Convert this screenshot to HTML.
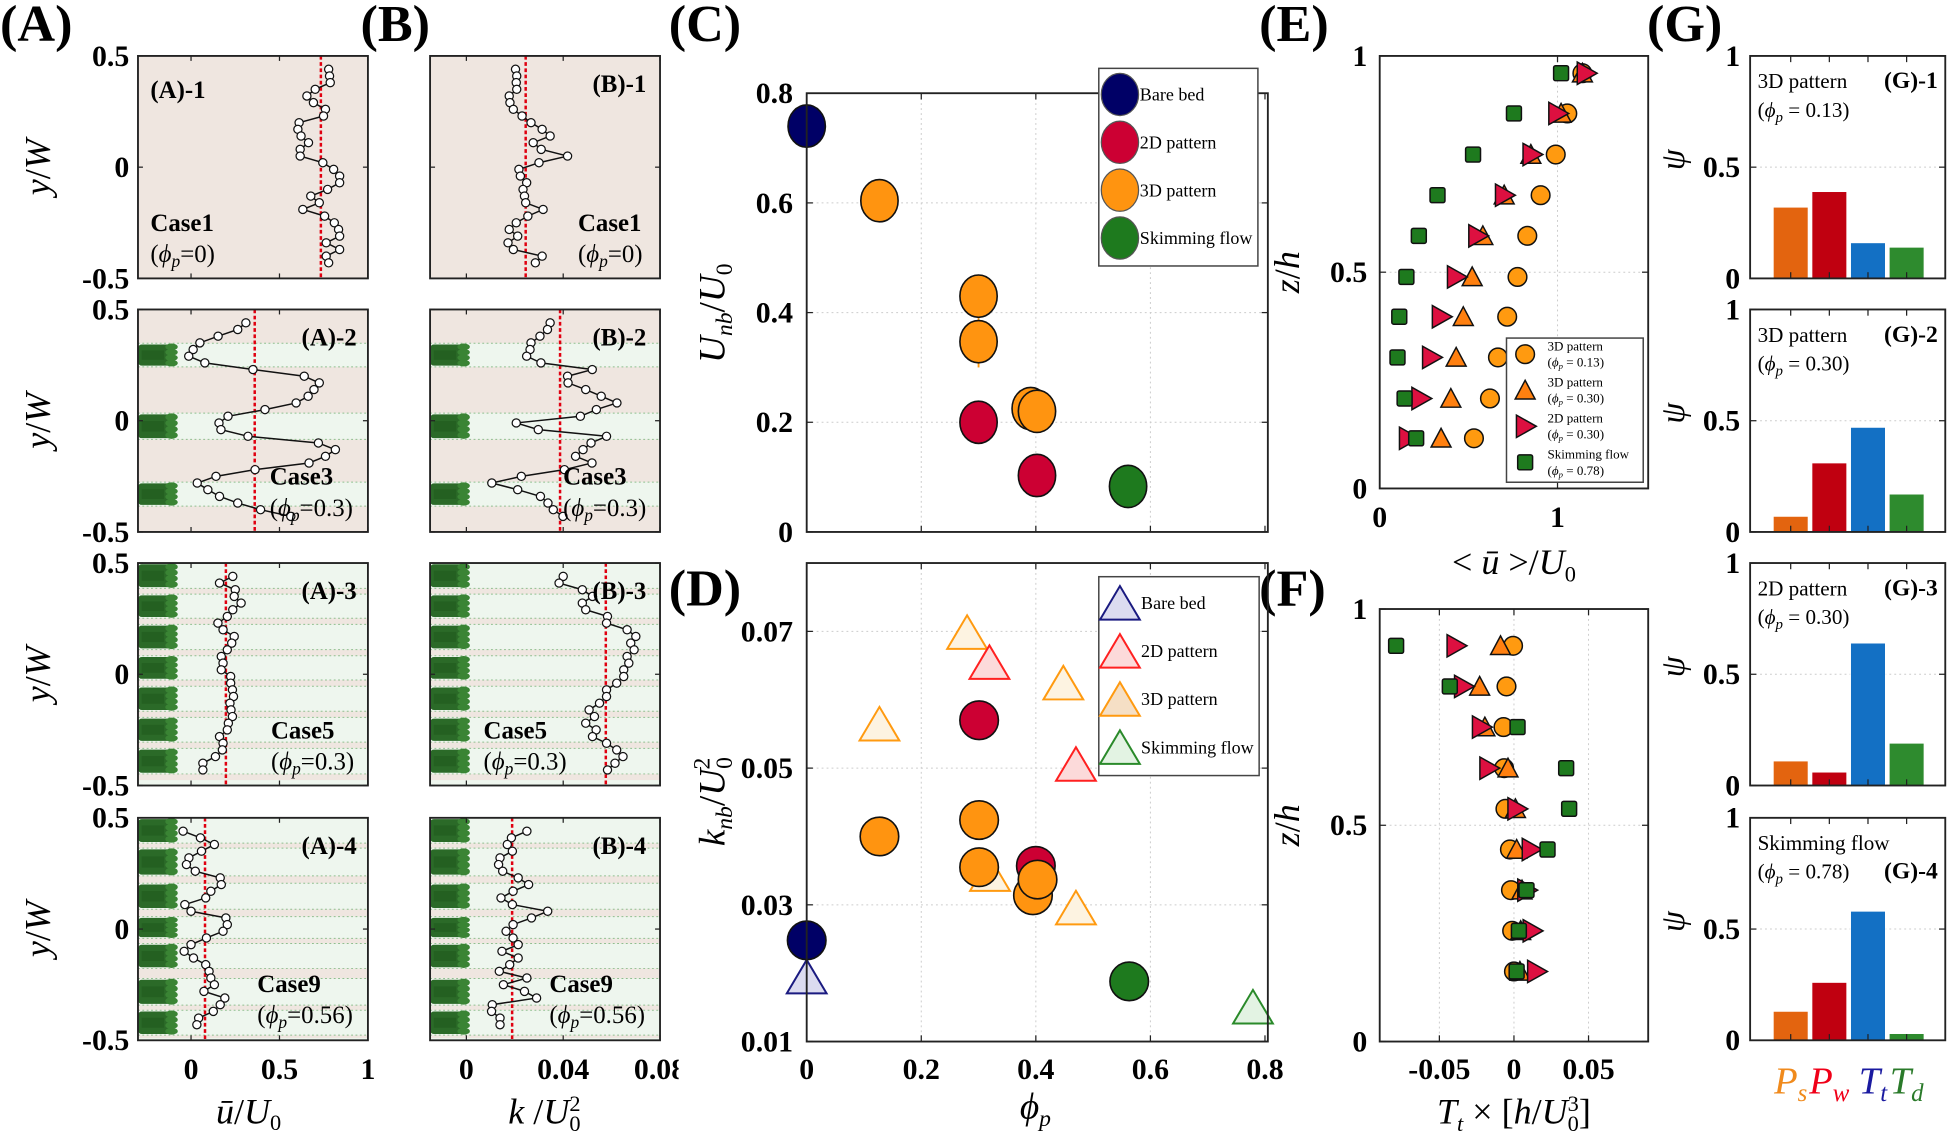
<!DOCTYPE html>
<html><head><meta charset="utf-8"><title>Vegetation pattern flow figure</title>
<style>
html,body{margin:0;padding:0;background:#fff;}
svg{display:block;font-family:"Liberation Serif",serif;}
.tk{font-weight:bold;font-size:24px;}
.it{font-style:italic;}
</style></head>
<body>
<svg id="fig" xmlns="http://www.w3.org/2000/svg" width="1949" height="1136" viewBox="0 0 1568 914" preserveAspectRatio="none">
<defs>
<clipPath id="clipB"><rect x="0" y="0" width="546" height="914"/></clipPath>
</defs>
</svg>
<script>
// ---------- DATA ----------
const profileY = [0.44,0.41,0.38,0.35,0.32,0.29,0.26,0.23,0.20,0.17,0.14,0.11,0.08,0.05,0.02,-0.01,-0.04,-0.07,-0.10,-0.13,-0.16,-0.19,-0.22,-0.25,-0.28,-0.31,-0.34,-0.37,-0.40,-0.43];
const uA1 = [0.778,0.783,0.787,0.702,0.655,0.692,0.76,0.749,0.611,0.604,0.622,0.664,0.617,0.617,0.745,0.806,0.84,0.84,0.772,0.677,0.725,0.632,0.755,0.81,0.834,0.84,0.764,0.84,0.764,0.778];
const uA2 = [0.31,0.264,0.153,0.05,0.012,-0.013,0.078,0.35,0.64,0.725,0.695,0.662,0.594,0.418,0.209,0.158,0.169,0.322,0.72,0.816,0.76,0.667,0.362,0.141,0.035,0.095,0.161,0.264,0.393,0.564];
const uA3 = [0.236,0.161,0.25,0.244,0.283,0.236,0.205,0.152,0.181,0.244,0.23,0.205,0.171,0.181,0.171,0.224,0.224,0.234,0.24,0.22,0.226,0.234,0.211,0.205,0.161,0.181,0.177,0.138,0.067,0.067];
const uA4 = [-0.045,0.053,0.132,0.059,-0.012,-0.026,0.024,0.165,0.171,0.112,0.083,-0.035,0,0.197,0.205,0.181,0.087,0,-0.039,0.014,0.083,0.102,0.112,0.132,0.073,0.191,0.165,0.126,0.043,0.033];
const kB1 = [0.0203,0.0208,0.0206,0.0208,0.0177,0.018,0.0194,0.023,0.0267,0.0313,0.0346,0.0276,0.0309,0.0418,0.03,0.0217,0.0223,0.0249,0.0234,0.024,0.0245,0.0317,0.0254,0.0206,0.0177,0.0212,0.0172,0.0194,0.0313,0.0285];
const kB2 = [0.0346,0.0335,0.0304,0.0267,0.0263,0.0249,0.0308,0.052,0.0418,0.042,0.0493,0.0557,0.0622,0.0537,0.0471,0.0206,0.0297,0.0579,0.0515,0.0482,0.0451,0.0519,0.0405,0.0227,0.0105,0.0212,0.0306,0.0337,0.0359,0.0399];
const kB3 = [0.04,0.0383,0.0479,0.0521,0.0479,0.0493,0.0583,0.0579,0.0664,0.07,0.0679,0.0693,0.0664,0.0671,0.065,0.065,0.0621,0.0579,0.0579,0.055,0.0507,0.0529,0.0493,0.0536,0.0521,0.0579,0.0621,0.0647,0.0614,0.0583];
const kB4 = [0.025,0.0186,0.0169,0.019,0.0139,0.0133,0.015,0.0214,0.0257,0.0193,0.0143,0.019,0.0336,0.0269,0.0193,0.0164,0.0193,0.0214,0.0147,0.0214,0.0179,0.0136,0.025,0.0153,0.024,0.029,0.0107,0.0104,0.0139,0.0139];
const meanA = [0.734,0.36,0.197,0.079];
const meanB = [0.0245,0.0387,0.0576,0.0189];

const phiC = [0,0.127,0.30,0.30,0.391,0.402,0.30,0.402,0.561];
const unbC = [0.74,0.604,0.43,0.347,0.225,0.22,0.2,0.103,0.083];
const typeC = ['bare','3d','3d','3d','3d','3d','2d','2d','skim'];

const phiDc = [0,0.127,0.301,0.301,0.40,0.395,0.403,0.301,0.563];
const knbDc = [0.0248,0.0400,0.0424,0.0355,0.0357,0.0314,0.0337,0.0570,0.0188];
const typeDc = ['bare','3d','3d','3d','2d','3d','3d','2d','skim'];
const phiDt = [0,0.28,0.127,0.448,0.32,0.47,0.319,0.47,0.779];
const knbDt = [0.0195,0.0699,0.0565,0.0625,0.0345,0.0296,0.0655,0.0506,0.0151];
const typeDt = ['bare','3d','3d','3d','3d','3d','2d','2d','skim'];

const zE = [0.96,0.867,0.772,0.678,0.584,0.489,0.397,0.303,0.208,0.116];
const uE_c13 = [1.14,1.055,0.99,0.905,0.83,0.775,0.717,0.665,0.62,0.53];
const uE_t30 = [1.14,1.02,0.85,0.70,0.58,0.52,0.47,0.43,0.40,0.345];
const uE_2d = [1.16,1.0,0.855,0.70,0.55,0.43,0.345,0.29,0.23,0.16];
const uE_sk = [1.02,0.755,0.525,0.325,0.22,0.15,0.11,0.10,0.14,0.205];

const zF = [0.915,0.821,0.727,0.632,0.538,0.444,0.35,0.256,0.162];
const tF_c13 = [-0.0006,-0.005,-0.007,-0.0066,-0.0057,-0.0027,-0.002,-0.0012,0];
const tF_t30 = [-0.009,-0.023,-0.0195,-0.004,0.001,0.0018,0.0054,0.0045,0.004];
const tF_2d = [-0.039,-0.034,-0.022,-0.017,0.0018,0.0114,0.0084,0.012,0.015];
const tF_sk = [-0.079,-0.043,0.0024,0.035,0.037,0.0225,0.0084,0.0033,0.0018];

const barCats = ['Ps','Pw','Tt','Td'];
const psiG1 = [0.32,0.39,0.16,0.14];
const psiG2 = [0.07,0.31,0.47,0.17];
const psiG3 = [0.11,0.06,0.64,0.19];
const psiG4 = [0.13,0.26,0.58,0.03];
const gTitles = ['3D pattern','3D pattern','2D pattern','Skimming flow'];
const gPhi = ['0.13','0.30','0.30','0.78'];

const tickA = ['0','0.5','1'];
const tickAv = [0,0.5,1];
const tickBv = [0,0.04,0.08];
const tickB = ['0','0.04','0.08'];
const tickCDx = [0,0.2,0.4,0.6,0.8];
const tickCy = [0,0.2,0.4,0.6,0.8];
const tickDy = [0.01,0.03,0.05,0.07];
const tickFx = [-0.05,0,0.05];

// ---------- HELPERS ----------
const NS='http://www.w3.org/2000/svg';
const svg=document.getElementById('fig');
function el(tag,attrs,parent,name){
  const e=document.createElementNS(NS,tag);
  for(const k in attrs) e.setAttribute(k,attrs[k]);
  
  
  (parent||svg).appendChild(e);
  return e;
}
function txt(parts,x,y,opts,parent,name){
  const t=el('text',Object.assign({x:x,y:y},opts||{}),parent,name);
  if(typeof parts==='string'){t.textContent=parts;return t;}
  parts.forEach(p=>{
    const s=document.createElementNS(NS,'tspan');
    s.textContent=p.t;
    if(p.it) s.setAttribute('font-style','italic');
    if(p.b) s.setAttribute('font-weight','bold');
    if(p.n) s.setAttribute('font-weight','normal');
    if(p.sz) s.setAttribute('font-size',p.sz);
    if(p.dy) s.setAttribute('dy',p.dy);
    if(p.dx) s.setAttribute('dx',p.dx);
    if(p.fill) s.setAttribute('fill',p.fill);
    t.appendChild(s);
  });
  return t;
}
function lin(d0,d1,p0,p1){return v=>p0+(v-d0)/(d1-d0)*(p1-p0);}

const ROWS=[45,249,453,658], RH=179;
const AX0=111,AX1=296,BX0=346,BX1=531;

// ---------- panel letters ----------
[['(A)',0,33],['(B)',290,33],['(C)',538,33],['(D)',538,487],['(E)',1013,33],['(F)',1013,487],['(G)',1325,33]].forEach(p=>{
  txt(p[0],p[1],p[2],{'font-size':42,'font-weight':'bold'},svg,'panel-label-'+p[0].replace(/[()]/g,'').toLowerCase());
});

// ---------- vegetation plant ----------
function plant(g,x0,yt,yb){
  const h=yb-yt;
  el('rect',{x:x0,y:yt+1,width:27,height:h-2,fill:'#2b6a28',rx:3},g,'vegetation-patch');
  for(let i=0;i<4;i++){
    el('ellipse',{cx:x0+27,cy:yt+h*(0.15+0.23*i),rx:5,ry:h*0.14,fill:'#3a8434'},g,'vegetation-leaf');
  }
  el('rect',{x:x0+3,y:yt+h*0.3,width:18,height:h*0.4,fill:'#1f5a1d',opacity:0.6},g,'vegetation-shade');
}

// ---------- A/B profile panels ----------
function profilePanel(col,row,vals,mean){
  const x0=col==='A'?AX0:BX0,x1=col==='A'?AX1:BX1;
  const sx=col==='A'?lin(-0.3,1,x0,x1):lin(-0.015,0.08,x0,x1);
  const top=ROWS[row],bot=top+RH;
  const sy=lin(0.5,-0.5,top,bot);
  const g=el('g',{},svg,'panel-'+col.toLowerCase()+'-'+(row+1));
  const beige='#efe6e0',green='#eef6ee';
  el('rect',{x:x0,y:top,width:x1-x0,height:RH,fill:row===0||row===1?beige:green},g,'plot-background');
  let zones=[];
  if(row===1){
    zones=[[0.242,0.348],[-0.084,0.034],[-0.384,-0.276]];
    zones.forEach(z=>{
      el('rect',{x:x0,y:sy(z[1]),width:x1-x0,height:sy(z[0])-sy(z[1]),fill:green},g,'vegetation-band');
    });
  }
  if(row>=2){
    const stripes=row===2?[[0.36,0.386],[0.224,0.252],[0.083,0.111],[-0.054,-0.026],[-0.194,-0.166],[-0.333,-0.305],[-0.476,-0.448]]
                          :[[0.364,0.386],[0.206,0.239],[0.056,0.089],[-0.065,-0.042],[-0.222,-0.177],[-0.365,-0.342],[-0.49,-0.477]];
    stripes.forEach(s=>{
      el('rect',{x:x0,y:sy(s[1]),width:x1-x0,height:sy(s[0])-sy(s[1]),fill:beige},g,'gap-stripe');
    });
    const edges=[0.5].concat(...stripes.map(s=>[s[1],s[0]])).concat([-0.5]);
    for(let i=0;i<edges.length;i+=2){
      const a=edges[i],b=edges[i+1];
      if(a-b>0.04) zones.push([b,a]);
    }
  }
  zones.forEach(z=>{
    const yt=sy(z[1]),yb=sy(z[0]);
    el('line',{x1:x0,x2:x1,y1:yt,y2:yt,stroke:'#8fbf8f','stroke-width':0.8,'stroke-dasharray':'1.5,2'},g,'band-edge');
    el('line',{x1:x0,x2:x1,y1:yb,y2:yb,stroke:'#8fbf8f','stroke-width':0.8,'stroke-dasharray':'1.5,2'},g,'band-edge');
    plant(g,x0,yt,yb);
  });
  // mean line
  el('line',{x1:sx(mean),x2:sx(mean),y1:top,y2:bot,stroke:'#e00010','stroke-width':2,'stroke-dasharray':'3,2'},g,'mean-line');
  // profile
  const pts=vals.map((v,i)=>sx(v)+','+sy(profileY[i])).join(' ');
  el('polyline',{points:pts,fill:'none',stroke:'#111','stroke-width':1.2},g,'profile-line');
  vals.forEach((v,i)=>{
    el('circle',{cx:sx(v),cy:sy(profileY[i]),r:3.3,fill:'#fff',stroke:'#111','stroke-width':1},g,'profile-point');
  });
  // frame & ticks
  el('rect',{x:x0,y:top,width:x1-x0,height:RH,fill:'none',stroke:'#222','stroke-width':1.5},g,'plot-frame');
  const tv=col==='A'?tickAv:tickBv;
  tv.forEach(v=>{
    el('line',{x1:sx(v),x2:sx(v),y1:top,y2:top+4,stroke:'#222'},g,'x-tick');
    el('line',{x1:sx(v),x2:sx(v),y1:bot,y2:bot-4,stroke:'#222'},g,'x-tick');
  });
  [0.5,0,-0.5].forEach(v=>{
    el('line',{x1:x0,x2:x0+4,y1:sy(v),y2:sy(v),stroke:'#222'},g,'y-tick');
    el('line',{x1:x1,x2:x1-4,y1:sy(v),y2:sy(v),stroke:'#222'},g,'y-tick');
  });
  if(col==='A'){
    [['0.5',0.5],['0',0],['-0.5',-0.5]].forEach(t=>{
      txt(t[0],104,sy(t[1])+8,{'class':'tk','text-anchor':'end'},g,'y-tick-label');
    });
    txt([{t:'y',it:1},{t:'/'},{t:'W',it:1}],40,(top+bot)/2,{'font-size':29,'text-anchor':'middle',transform:'rotate(-90 40 '+((top+bot)/2)+')'},g,'y-axis-title');
  }
  return {g:g,sx:sx,sy:sy,x0:x0,x1:x1,top:top,bot:bot};
}
const uA=[uA1,uA2,uA3,uA4], kB=[kB1,kB2,kB3,kB4];
const caseNames=['Case1','Case3','Case5','Case9'], casePhi=['0','0.3','0.3','0.56'];
const aCasePos=[[121,186],[217,390],[218,594],[207,798]];
const bCasePos=[[465,186],[453,390],[389,594],[442,798]];
for(let r=0;r<4;r++){
  const pa=profilePanel('A',r,uA[r],meanA[r]);
  const pb=profilePanel('B',r,kB[r],meanB[r]);
  if(r===0) txt('(A)-1',121,79,{'font-size':20,'font-weight':'bold'},pa.g,'subpanel-label');
  else txt('(A)-'+(r+1),287,pa.top+29,{'font-size':20,'font-weight':'bold','text-anchor':'end'},pa.g,'subpanel-label');
  txt('(B)-'+(r+1),520,pb.top+29,{'font-size':20,'font-weight':'bold','text-anchor':'end'},pb.g,'subpanel-label');
  [[pa,aCasePos[r]],[pb,bCasePos[r]]].forEach(q=>{
    txt(caseNames[r],q[1][0],q[1][1],{'font-size':20,'font-weight':'bold'},q[0].g,'case-label');
    txt([{t:'('},{t:'ϕ',it:1},{t:'p',it:1,sz:14,dy:4},{t:'=',dy:-4},{t:casePhi[r]+')'}],q[1][0],q[1][1]+25,{'font-size':20},q[0].g,'case-phi-label');
  });
}
// A/B x-axis labels
const sxA=lin(-0.3,1,AX0,AX1), sxB=lin(-0.015,0.08,BX0,BX1);
tickAv.forEach((v,i)=>txt(tickA[i],sxA(v),868,{'class':'tk','text-anchor':'middle'},svg,'x-tick-label-a'));
const gbx=el('g',{'clip-path':'url(#clipB)'},svg,'x-tick-labels-b');
tickBv.forEach((v,i)=>txt(tickB[i],sxB(v),868,{'class':'tk','text-anchor':'middle'},gbx,'x-tick-label-b'));
txt([{t:'u\u0304',it:1},{t:'/'},{t:'U',it:1},{t:'0',sz:18,dy:5}],200,904,{'font-size':29,'text-anchor':'middle'},svg,'x-axis-title-a');
txt([{t:'k',it:1},{t:' /'},{t:'U',it:1},{t:'0',sz:18,dy:6},{t:'2',sz:18,dy:-16,dx:-9}],438,904,{'font-size':29,'text-anchor':'middle'},svg,'x-axis-title-b');

// ---------- C & D ----------
const CX0=649,CX1=1020;
const sxC=lin(0,0.805,CX0,CX1);
const syC=lin(0,0.8,428,75);
const syD=lin(0.01,0.08,838,453);
const colC={bare:'#000066','2d':'#cc0033','3d':'#ff9410',skim:'#1e7a1e'};
const triStroke={bare:'#1a1a80','2d':'#ff2020','3d':'#ff9a10',skim:'#2a8a2a'};
const triFill={bare:'#dcdcf0','2d':'#fcdada','3d':'#fdf3e1',skim:'#e3f3e3'};
function gridPanel(name,x0,x1,y0,y1,xv,sx,yv,sy){
  const g=el('g',{},svg,name);
  xv.forEach(v=>el('line',{x1:sx(v),x2:sx(v),y1:y0,y2:y1,stroke:'#ccc','stroke-width':0.8,'stroke-dasharray':'1.5,2.5'},g,'grid-line'));
  yv.forEach(v=>el('line',{x1:x0,x2:x1,y1:sy(v),y2:sy(v),stroke:'#ccc','stroke-width':0.8,'stroke-dasharray':'1.5,2.5'},g,'grid-line'));
  return g;
}
function frame(g,x0,x1,y0,y1,xv,sx,yv,sy){
  el('rect',{x:x0,y:y0,width:x1-x0,height:y1-y0,fill:'none',stroke:'#222','stroke-width':1.5},g,'plot-frame');
  xv.forEach(v=>{
    el('line',{x1:sx(v),x2:sx(v),y1:y0,y2:y0+5,stroke:'#222'},g,'x-tick');
    el('line',{x1:sx(v),x2:sx(v),y1:y1,y2:y1-5,stroke:'#222'},g,'x-tick');
  });
  yv.forEach(v=>{
    el('line',{x1:x0,x2:x0+5,y1:sy(v),y2:sy(v),stroke:'#222'},g,'y-tick');
    el('line',{x1:x1,x2:x1-5,y1:sy(v),y2:sy(v),stroke:'#222'},g,'y-tick');
  });
}
function tri(g,cx,cy,w,h,fill,stroke,name){
  return el('polygon',{points:(cx-w/2)+','+(cy+h/2)+' '+(cx+w/2)+','+(cy+h/2)+' '+cx+','+(cy-h/2),fill:fill,stroke:stroke,'stroke-width':1.6},g,name);
}
// C
const gC=gridPanel('panel-c',CX0,CX1,75,428,[0.2,0.4,0.6],sxC,[0.2,0.4,0.6],syC);
el('line',{x1:sxC(0.30),x2:sxC(0.30),y1:syC(0.39),y2:syC(0.30),stroke:'#ff9a10','stroke-width':1.5},gC,'error-bar');
phiC.forEach((v,i)=>{
  el('ellipse',{cx:sxC(v),cy:syC(unbC[i]),rx:15,ry:17,fill:colC[typeC[i]],stroke:'#111','stroke-width':1.3},gC,'marker-'+typeC[i]);
});
frame(gC,CX0,CX1,75,428,tickCDx,sxC,tickCy,syC);
tickCy.forEach(v=>txt(String(v),638,syC(v)+8,{'class':'tk','text-anchor':'end'},gC,'y-tick-label'));
txt([{t:'U',it:1},{t:'nb',it:1,sz:19,dy:6},{t:'/',dy:-6},{t:'U',it:1},{t:'0',sz:19,dy:6}],583,252,{'font-size':30,'text-anchor':'middle',transform:'rotate(-90 583 252)'},gC,'y-axis-title');
const lgC=el('g',{},gC,'legend-c');
el('rect',{x:884,y:55,width:128,height:159,fill:'#fff',stroke:'#444','stroke-width':1.2},lgC,'legend-box');
[['bare','Bare bed'],['2d','2D pattern'],['3d','3D pattern'],['skim','Skimming flow']].forEach((e,i)=>{
  const y=76+i*38.5;
  el('ellipse',{cx:901,cy:y,rx:15,ry:17,fill:colC[e[0]],stroke:'#555','stroke-width':1},lgC,'legend-marker');
  txt(e[1],917,y+5,{'font-size':14.5},lgC,'legend-entry');
});
// D
const gD=gridPanel('panel-d',CX0,CX1,453,838,[0.2,0.4,0.6],sxC,[0.03,0.05,0.07],syD);
phiDt.forEach((v,i)=>{
  tri(gD,sxC(v),syD(knbDt[i]),32,27,triFill[typeDt[i]],triStroke[typeDt[i]],'triangle-'+typeDt[i]);
});
phiDc.forEach((v,i)=>{
  el('circle',{cx:sxC(v),cy:syD(knbDc[i]),r:15.5,fill:colC[typeDc[i]],stroke:'#111','stroke-width':1.3},gD,'marker-'+typeDc[i]);
});
frame(gD,CX0,CX1,453,838,tickCDx,sxC,tickDy,syD);
tickDy.forEach(v=>txt(String(v),638,syD(v)+8,{'class':'tk','text-anchor':'end'},gD,'y-tick-label'));
tickCDx.forEach(v=>txt(String(v),sxC(v),868,{'class':'tk','text-anchor':'middle'},gD,'x-tick-label'));
txt([{t:'k',it:1},{t:'nb',it:1,sz:19,dy:6},{t:'/',dy:-6},{t:'U',it:1},{t:'0',sz:19,dy:6},{t:'2',sz:19,dy:-18,dx:-10}],583,645,{'font-size':30,'text-anchor':'middle',transform:'rotate(-90 583 645)'},gD,'y-axis-title');
txt([{t:'ϕ',it:1},{t:'p',it:1,sz:19,dy:6}],833,900,{'font-size':30,'text-anchor':'middle'},gD,'x-axis-title');
const lgD=el('g',{},gD,'legend-d');
el('rect',{x:884,y:464,width:129,height:160,fill:'#fff',stroke:'#444','stroke-width':1.2},lgD,'legend-box');
[['bare','Bare bed'],['2d','2D pattern'],['3d','3D pattern'],['skim','Skimming flow']].forEach((e,i)=>{
  const y=485+i*38.7;
  tri(lgD,901,y,32,27,e[0]==='3d'?'#f5dfc5':triFill[e[0]],triStroke[e[0]],'legend-marker');
  txt(e[1],918,y+5,{'font-size':14.5},lgD,'legend-entry');
});

// ---------- E & F ----------
const EX0=1110,EX1=1326;
const sxE=lin(0,1.51,EX0,EX1), syE=lin(0,1,393,45);
const sxF=lin(-0.09,0.09,EX0,EX1), syF=lin(0,1,838,490);
function circleM(g,x,y){return el('circle',{cx:x,cy:y,r:7.5,fill:'#ff9a10',stroke:'#111','stroke-width':1.2},g,'marker-3d-013');}
function upTri(g,x,y){return el('polygon',{points:(x-8)+','+(y+7)+' '+(x+8)+','+(y+7)+' '+x+','+(y-8),fill:'#ff8010',stroke:'#111','stroke-width':1.2},g,'marker-3d-030');}
function rTri(g,x,y){return el('polygon',{points:(x-7)+','+(y-9)+' '+(x-7)+','+(y+9)+' '+(x+9)+','+y,fill:'#dd1040',stroke:'#111','stroke-width':1.2},g,'marker-2d-030');}
function sqM(g,x,y){return el('rect',{x:x-6,y:y-6,width:12,height:12,rx:1.5,fill:'#1e7a1e',stroke:'#111','stroke-width':1.2},g,'marker-skimming');}
const gE=gridPanel('panel-e',EX0,EX1,45,393,[1],sxE,[0.5],syE);
zE.forEach((z,i)=>circleM(gE,sxE(uE_c13[i]),syE(z)));
zE.forEach((z,i)=>upTri(gE,sxE(uE_t30[i]),syE(z)));
zE.forEach((z,i)=>rTri(gE,sxE(uE_2d[i]),syE(z)));
zE.forEach((z,i)=>sqM(gE,sxE(uE_sk[i]),syE(z)));
frame(gE,EX0,EX1,45,393,[0,1],sxE,[0,0.5,1],syE);
[[1,'1'],[0.5,'0.5'],[0,'0']].forEach(t=>txt(t[1],1100,syE(t[0])+8,{'class':'tk','text-anchor':'end'},gE,'y-tick-label'));
[[0,'0'],[1,'1']].forEach(t=>txt(t[1],sxE(t[0]),424,{'class':'tk','text-anchor':'middle'},gE,'x-tick-label'));
txt([{t:'z',it:1},{t:'/'},{t:'h',it:1}],1045,219,{'font-size':29,'text-anchor':'middle',transform:'rotate(-90 1045 219)'},gE,'y-axis-title');
txt([{t:'< '},{t:'u\u0304',it:1},{t:' >/'},{t:'U',it:1},{t:'0',sz:18,dy:6}],1218,462,{'font-size':29,'text-anchor':'middle'},gE,'x-axis-title');
const lgE=el('g',{},gE,'legend-e');
el('rect',{x:1212,y:272,width:110,height:116,fill:'#fff',stroke:'#444','stroke-width':1.2},lgE,'legend-box');
const lgEtxt=[['3D pattern','0.13'],['3D pattern','0.30'],['2D pattern','0.30'],['Skimming flow','0.78']];
lgEtxt.forEach((e,i)=>{
  const y=285+i*29;
  if(i===0) circleM(lgE,1227,y);
  if(i===1) upTri(lgE,1227,y);
  if(i===2) rTri(lgE,1227,y);
  if(i===3) sqM(lgE,1227,y);
  txt(e[0],1245,y-3,{'font-size':10.5},lgE,'legend-entry');
  txt([{t:'('},{t:'ϕ',it:1},{t:'p',it:1,sz:7,dy:2},{t:' = '+e[1]+')',dy:-2}],1245,y+10,{'font-size':10.5},lgE,'legend-entry-phi');
});
const gF=gridPanel('panel-f',EX0,EX1,490,838,tickFx,sxF,[0.5],syF);
zF.forEach((z,i)=>circleM(gF,sxF(tF_c13[i]),syF(z)));
zF.forEach((z,i)=>upTri(gF,sxF(tF_t30[i]),syF(z)));
zF.forEach((z,i)=>rTri(gF,sxF(tF_2d[i]),syF(z)));
zF.forEach((z,i)=>sqM(gF,sxF(tF_sk[i]),syF(z)));
frame(gF,EX0,EX1,490,838,tickFx,sxF,[0,0.5,1],syF);
[[1,'1'],[0.5,'0.5'],[0,'0']].forEach(t=>txt(t[1],1100,syF(t[0])+8,{'class':'tk','text-anchor':'end'},gF,'y-tick-label'));
tickFx.forEach(v=>txt(String(v),sxF(v),868,{'class':'tk','text-anchor':'middle'},gF,'x-tick-label'));
txt([{t:'z',it:1},{t:'/'},{t:'h',it:1}],1045,664,{'font-size':29,'text-anchor':'middle',transform:'rotate(-90 1045 664)'},gF,'y-axis-title');
txt([{t:'T',it:1},{t:'t',it:1,sz:18,dy:6},{t:' × [',dy:-6},{t:'h',it:1},{t:'/'},{t:'U',it:1},{t:'0',sz:18,dy:6},{t:'3',sz:18,dy:-16,dx:-9},{t:']',dy:10}],1218,904,{'font-size':29,'text-anchor':'middle'},gF,'x-axis-title');

// ---------- G ----------
const GX0=1408,GX1=1565;
const sxG=lin(-0.05,5.0,GX0,GX1);
const barColors=['#e3640f','#c00010','#1370c4','#2e8b2e'];
const psiG=[psiG1,psiG2,psiG3,psiG4];
for(let r=0;r<4;r++){
  const top=ROWS[r],bot=top+RH;
  const sy=lin(0,1,bot,top);
  const g=el('g',{},svg,'panel-g-'+(r+1));
  el('line',{x1:GX0,x2:GX1,y1:sy(0.5),y2:sy(0.5),stroke:'#ccc','stroke-width':0.8,'stroke-dasharray':'1.5,2.5'},g,'grid-line');
  psiG[r].forEach((v,i)=>{
    el('rect',{x:sxG(i+1-0.45),y:sy(v),width:sxG(0.9)-sxG(0),height:sy(0)-sy(v),fill:barColors[i],stroke:'#fff','stroke-width':0.6},g,'bar-'+barCats[i].toLowerCase());
  });
  frame(g,GX0,GX1,top,bot,[1,2,3,4],sxG,[0,0.5,1],sy);
  [[1,'1'],[0.5,'0.5'],[0,'0']].forEach(t=>txt(t[1],1400,sy(t[0])+8,{'class':'tk','text-anchor':'end'},g,'y-tick-label'));
  txt('ψ',1347,sy(0.5)+2,{'font-size':27,'font-style':'italic','text-anchor':'middle',transform:'rotate(-90 1347 '+(sy(0.5)-6)+')'},g,'y-axis-title');
  txt(gTitles[r],1414,top+26,{'font-size':17},g,'case-title');
  txt([{t:'('},{t:'ϕ',it:1},{t:'p',it:1,sz:12,dy:4},{t:' = '+gPhi[r]+')',dy:-4}],1414,top+49,{'font-size':17},g,'case-phi');
  txt('(G)-'+(r+1),1559,r===3?top+49:top+26,{'font-size':19,'font-weight':'bold','text-anchor':'end'},g,'subpanel-label');
}
const gCatColors=['#f08a1c','#f00018','#1a1aa0','#2a7a2a'];
const catSub=['s','w','t','d'];
barCats.forEach((c,i)=>{
  txt([{t:'P'.replace('P',c[0]),it:1},{t:catSub[i],it:1,sz:20,dy:6}],sxG(i+1)+(i===2?4:0),880,{'font-size':31,'text-anchor':'middle',fill:gCatColors[i]},svg,'bar-category-label');
});
</script>
</body></html>
